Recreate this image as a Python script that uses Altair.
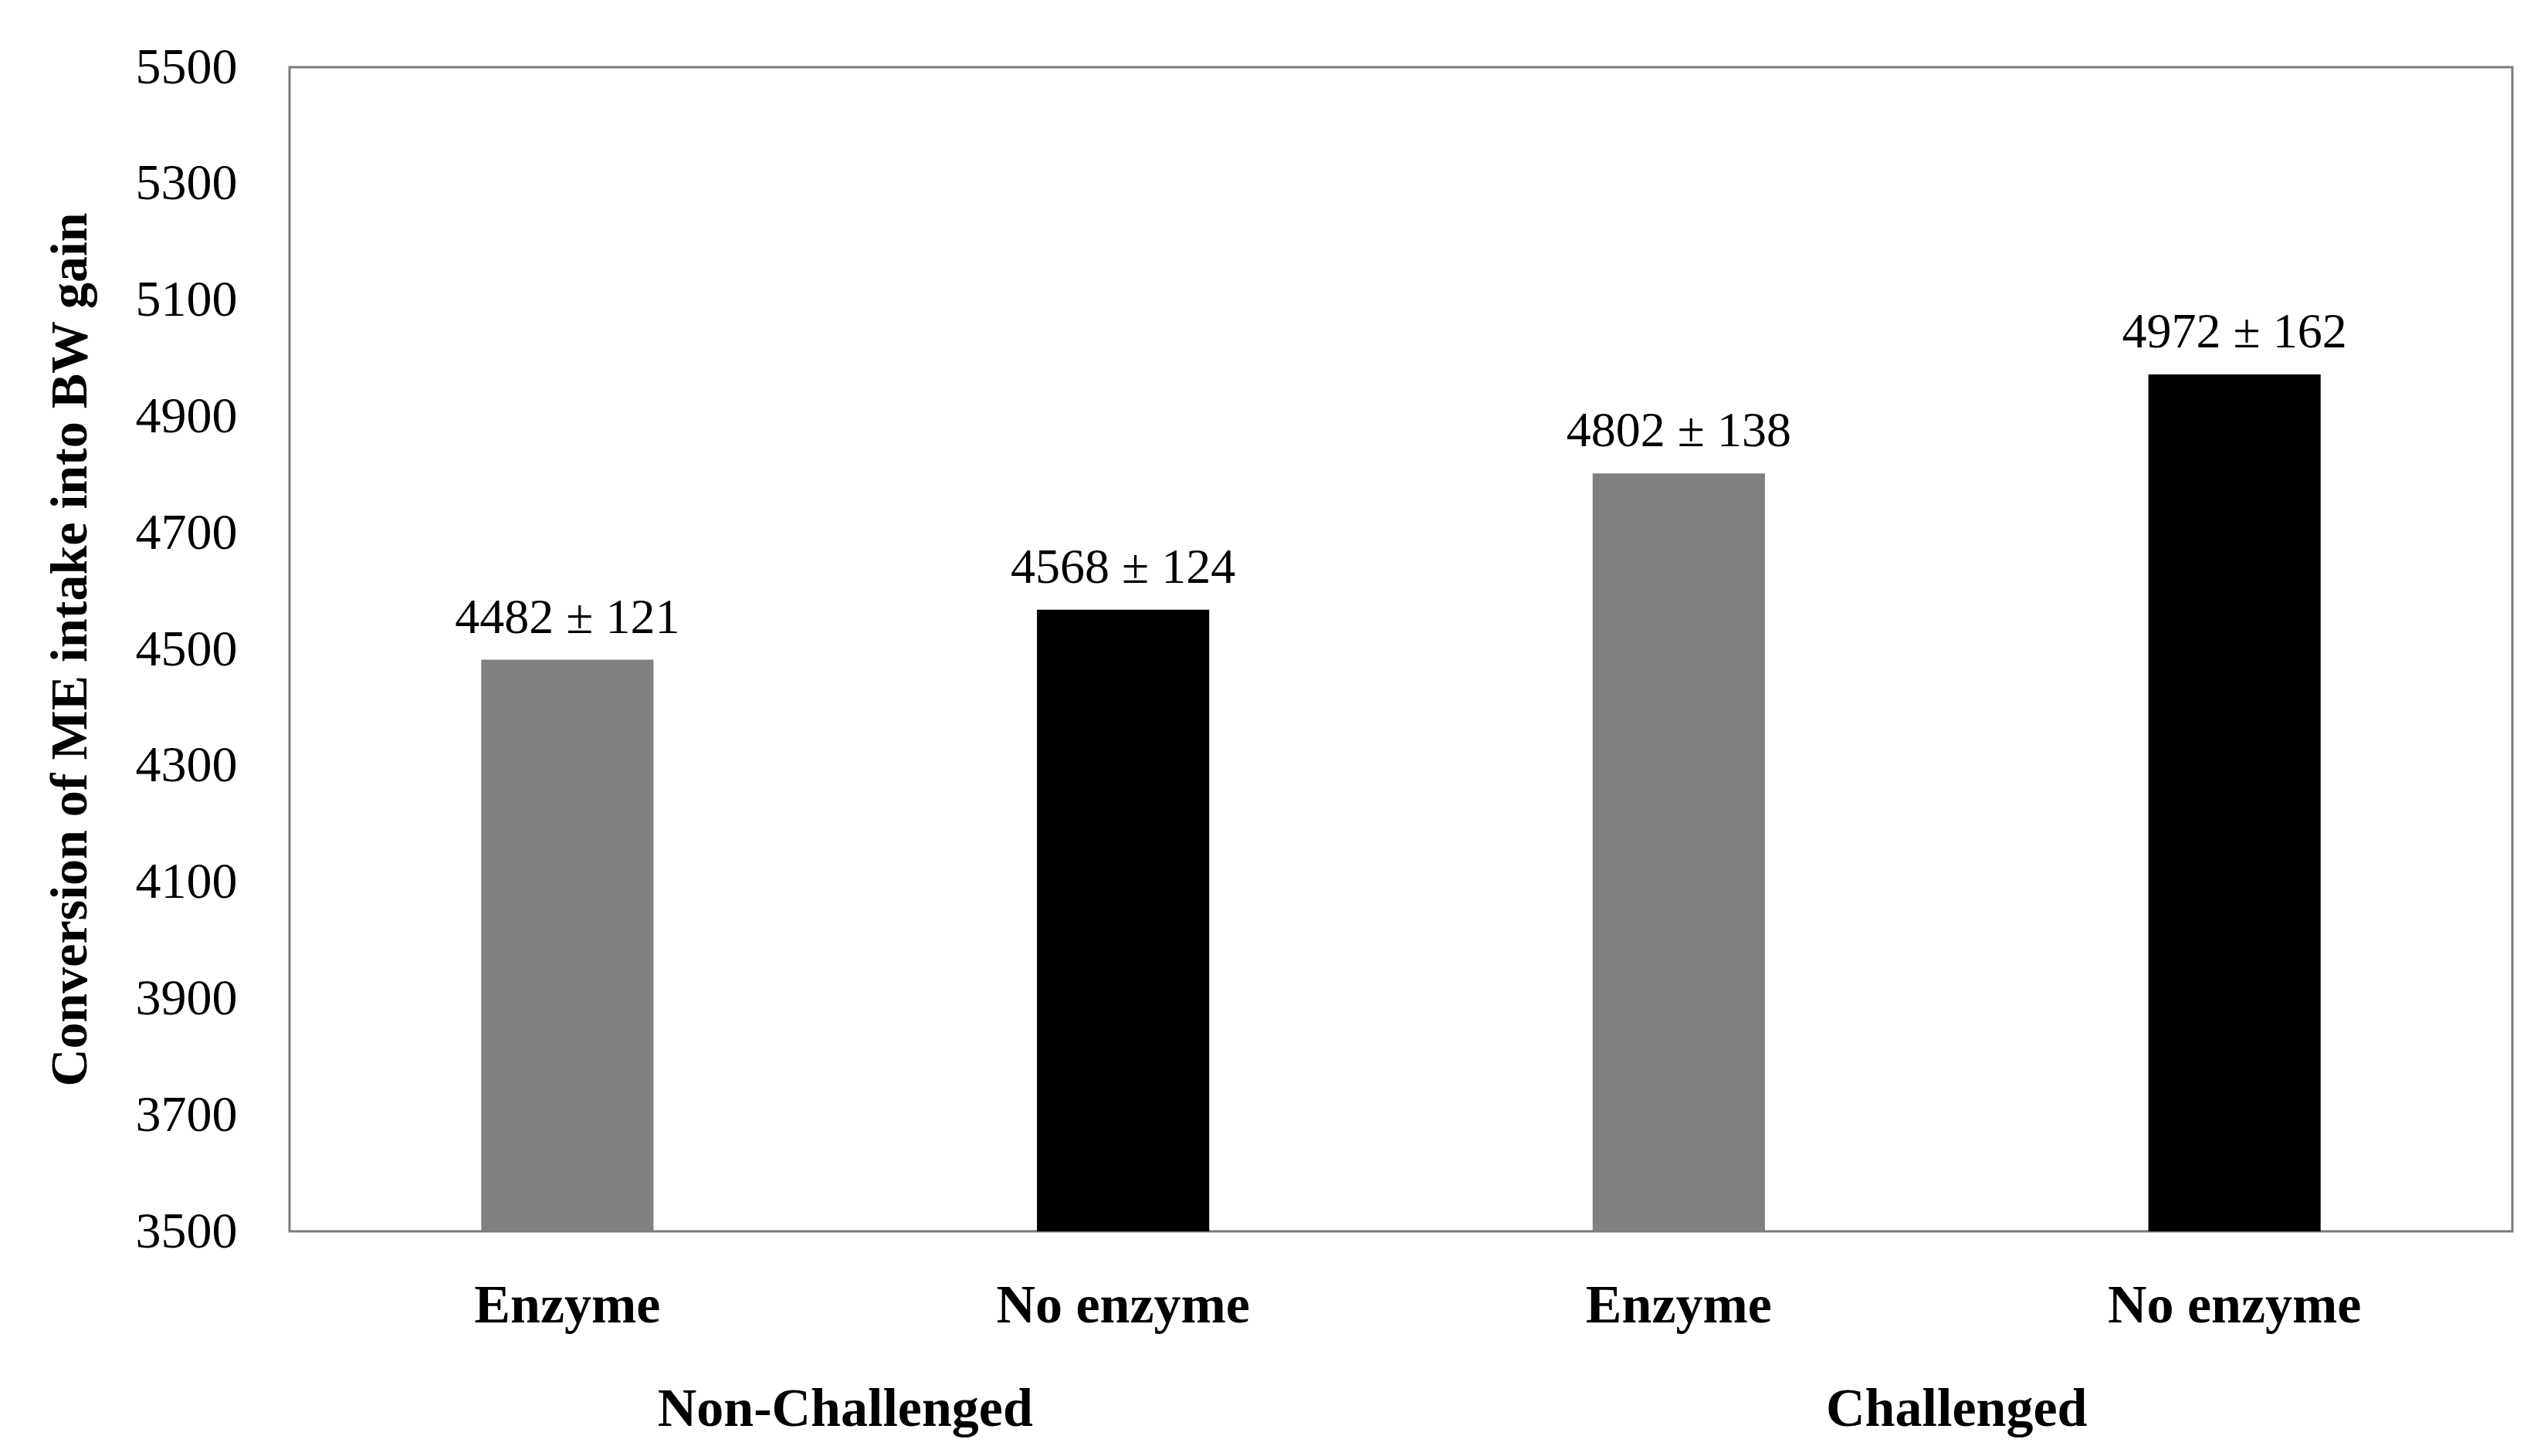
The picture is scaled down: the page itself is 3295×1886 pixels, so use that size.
import altair as alt
import pandas as pd

groups = ["Non-Challenged", "Non-Challenged", "Challenged", "Challenged"]
treatments = ["Enzyme", "No enzyme", "Enzyme", "No enzyme"]
means = [4482, 4568, 4802, 4972]
sems = [121, 124, 138, 162]
bar_colors = ["#808080", "#000000", "#808080", "#000000"]
y_ticks = [3500, 3700, 3900, 4100, 4300, 4500, 4700, 4900, 5100, 5300, 5500]
group_names = ["Non-Challenged", "Challenged"]

keys = [f"{g}|{t}" for g, t in zip(groups, treatments)]
df = pd.DataFrame({
    "key": keys,
    "group": groups,
    "treatment": treatments,
    "mean": means,
    "sem": sems,
    "color": bar_colors,
    "label": [f"{m} \u00b1 {s}" for m, s in zip(means, sems)],
})
gdf = pd.DataFrame({"group": group_names})

FONT = "Liberation Serif"

x_enc = alt.X(
    "key:N",
    sort=keys,
    scale=alt.Scale(paddingInner=0.69, paddingOuter=0.345),
    axis=alt.Axis(
        title=None,
        labelExpr="split(datum.label, '|')[1]",
        labelAngle=0,
        labelLimit=0,
        labelFont=FONT,
        labelFontSize=70,
        labelFontWeight="bold",
        labelColor="#000000",
        labelBaseline="alphabetic",
        labelPadding=117,
        ticks=False,
        tickSize=0,
        domain=False,
        grid=False,
    ),
)
y_enc = alt.Y(
    "mean:Q",
    scale=alt.Scale(domain=[3500, 5500], zero=False, nice=False),
    axis=alt.Axis(
        title="Conversion of ME intake into BW gain",
        values=y_ticks,
        format="d",
        labelFont=FONT,
        labelFontSize=66,
        labelColor="#000000",
        labelPadding=68,
        ticks=False,
        tickSize=0,
        domain=False,
        grid=False,
        titleFont=FONT,
        titleFontSize=68,
        titleFontWeight="bold",
        titleColor="#000000",
        titlePadding=50,
    ),
)

bars = alt.Chart(df).mark_bar().encode(
    x=x_enc,
    y=y_enc,
    y2=alt.datum(3500),
    color=alt.Color("color:N", scale=None),
)

labels = alt.Chart(df).mark_text(
    font=FONT, fontSize=64, color="#000000", baseline="alphabetic", dy=-35
).encode(
    x=alt.X("key:N", sort=keys),
    y=alt.Y("mean:Q"),
    text="label:N",
)

base = alt.layer(bars, labels)

group_labels = alt.Chart(gdf).mark_text(
    font=FONT, fontSize=70, fontWeight="bold", color="#000000", baseline="alphabetic"
).encode(
    x=alt.X("group:N", sort=group_names,
            scale=alt.Scale(paddingInner=0, paddingOuter=0), axis=None),
    y=alt.value(1760),
    text="group:N",
)

chart = alt.layer(base, group_labels).resolve_scale(x="independent").resolve_axis(x="independent").properties(
    width=2879,
    height=1508,
    padding={"left": 49, "top": 46, "right": 10, "bottom": 10},
).configure(
    background="#ffffff",
    view=alt.ViewConfig(stroke="#7a7a7a", strokeWidth=3),
)

chart.save("out.html", embed_options={"renderer": "svg", "actions": False})
